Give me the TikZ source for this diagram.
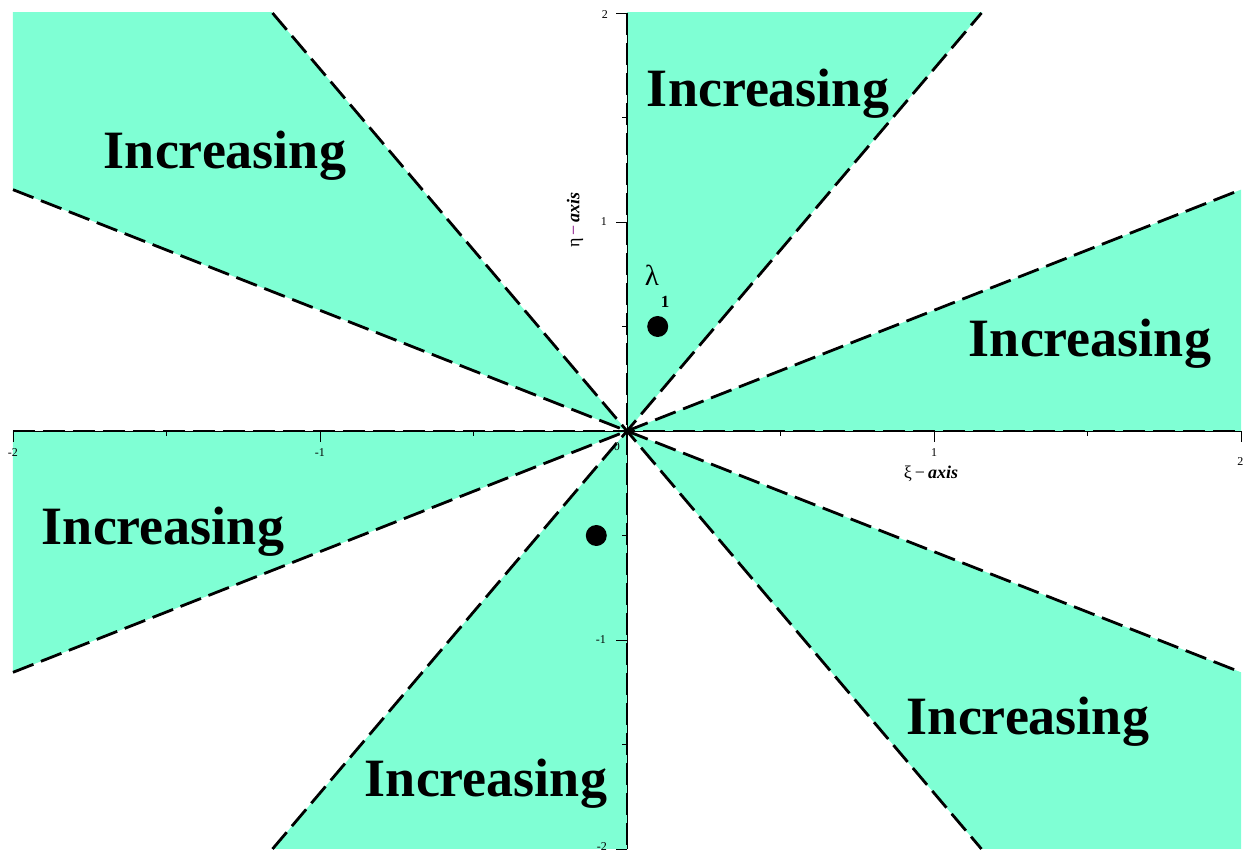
\documentclass[tikz,border=0pt]{standalone}
\usepackage{fontspec}
\setmainfont{Liberation Serif}
\definecolor{aqua}{RGB}{127,255,212}
\definecolor{minuspurple}{RGB}{128,0,128}
\tikzset{
  region/.style={fill=aqua, draw=none},
  ray/.style={draw=black, line width=2.8pt, dash pattern=on 22pt off 8pt},
  axisline/.style={draw=black, line width=0.9pt},
  tickmark/.style={draw=black, line width=0.9pt},
  ticklabel/.style={font=\fontsize{12}{14}\selectfont, inner sep=0pt},
  inclabel/.style={font=\fontsize{54}{60}\selectfont\bfseries, inner sep=0pt},
  axislabel/.style={font=\fontsize{18}{20}\selectfont, inner sep=0pt},
  dot/.style={fill=black}
}
\begin{document}
\begin{tikzpicture}[x=307pt, y=209pt]
\useasboundingbox (-2.04235,-2.06699) rectangle (2.02932,2.06220);
% edge points
\coordinate (O) at (0,0);
\coordinate (e0) at (2,0);
\coordinate (e30) at (2,1.1547);
\coordinate (e60) at (1.1547,2);
\coordinate (e90) at (0,2);
\coordinate (e120) at (-1.1547,2);
\coordinate (e150) at (-2,1.1547);
\coordinate (e180) at (-2,0);
\coordinate (e210) at (-2,-1.1547);
\coordinate (e240) at (-1.1547,-2);
\coordinate (e270) at (0,-2);
\coordinate (e300) at (1.1547,-2);
\coordinate (e330) at (2,-1.1547);
\begin{scope}
\clip (-2,-2) rectangle (2,2);
\fill[region] (O) -- (4,0) -- (4,2.3094) -- cycle;
\fill[region] (O) -- (2.3094,4) -- (0,4) -- cycle;
\fill[region] (O) -- (-2.3094,4) -- (-4,2.3094) -- cycle;
\fill[region] (O) -- (-4,0) -- (-4,-2.3094) -- cycle;
\fill[region] (O) -- (-2.3094,-4) -- (0,-4) -- cycle;
\fill[region] (O) -- (2.3094,-4) -- (4,-2.3094) -- cycle;
\end{scope}
% axes
\draw[axisline] (e180) -- (e0);
\draw[axisline] (e270) -- (e90);
% ticks x
\foreach \t in {-2,-1,1,2} \draw[tickmark] (\t,0) -- ++(0,-11pt);
\foreach \t in {-1.5,-0.5,0.5,1.5} \draw[tickmark] (\t,0) -- ++(0,-5pt);
% ticks y
\foreach \t in {-2,-1,1,2} \draw[tickmark] (0,\t) -- ++(-11pt,0);
\foreach \t in {-1.5,-0.5,0.5,1.5} \draw[tickmark] (0,\t) -- ++(-5pt,0);
% rays
\draw[ray] (e180) -- (e0);
\draw[ray] (e90) -- (e270);
\draw[ray] (e210) -- (e30);
\draw[ray] (e240) -- (e60);
\draw[ray] (e120) -- (e300);
\draw[ray] (e150) -- (e330);
% tick labels
\node[ticklabel] (xm2) at (-2.0,-0.105) {-2};
\node[ticklabel] (xm1) at (-1.0,-0.105) {-1};
\node[ticklabel] (x0) at (-0.0326,-0.0766) {0};
\node[ticklabel] (x1) at (1.0,-0.105) {1};
\node[ticklabel] (x2) at (1.998,-0.145) {2};
\node[ticklabel] (y2) at (-0.072,1.995) {2};
\node[ticklabel] (y1) at (-0.075,1.0) {1};
\node[ticklabel] (ym1) at (-0.085,-1.0) {-1};
\node[ticklabel] (ym2) at (-0.082,-1.99) {-2};
% axis labels
\node[axislabel] (xilab) at (0.990,-0.2057) {ξ\,−\,\textbf{\textit{axis}}};
\node[axislabel, rotate=90] (etalab) at (-0.1694,1.0096) {η\,\textcolor{minuspurple}{−}\,\textbf{\textit{axis}}};
% region labels
\node[inclabel] (i1) at (0.4593,1.6126) {Increasing};
\node[inclabel] (i2) at (-1.3094,1.3159) {Increasing};
\node[inclabel] (i3) at (1.5081,0.4164) {Increasing};
\node[inclabel] (i4) at (-1.5114,-0.4831) {Increasing};
\node[inclabel] (i5) at (1.3062,-1.3922) {Increasing};
\node[inclabel] (i6) at (-0.4593,-1.6889) {Increasing};
% points
\fill[dot] (0.1,0.5) circle[radius=10.5pt];
\fill[dot] (-0.1,-0.5) circle[radius=10.5pt];
\node[font=\fontsize{29}{32}\selectfont, inner sep=0pt] (lam) at (0.0814,0.7464) {λ};
\node[font=\fontsize{17}{19}\selectfont\bfseries, inner sep=0pt] (lamsub) at (0.1238,0.6172) {1};
\end{tikzpicture}
\end{document}
